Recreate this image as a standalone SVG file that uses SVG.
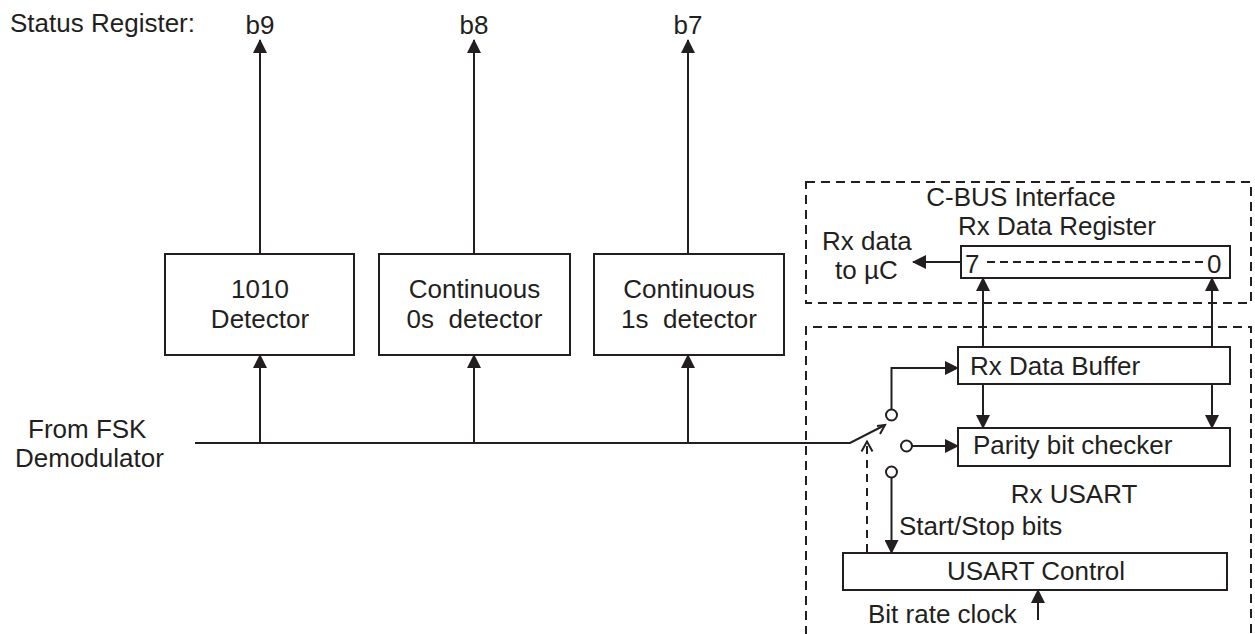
<svg xmlns="http://www.w3.org/2000/svg" width="1255" height="634" viewBox="0 0 1255 634">
<defs>
<style>
text{font-family:"Liberation Sans",Arial,sans-serif;font-size:26px;fill:#231f20}
.m{text-anchor:middle}
.box{fill:#fff;stroke:#231f20;stroke-width:2}
.ln{fill:none;stroke:#231f20;stroke-width:2}
.dash{fill:none;stroke:#231f20;stroke-width:2;stroke-dasharray:9 6}
.circ{fill:#fff;stroke:#231f20;stroke-width:2}
</style>
<marker id="ah" markerUnits="userSpaceOnUse" markerWidth="14" markerHeight="14" viewBox="0 0 14 14" refX="13" refY="7" orient="auto">
<path d="M0,0 L14,7 L0,14 Z" fill="#231f20"/>
</marker>
</defs>
<rect width="1255" height="634" fill="#fff"/>
<g id="labels">
<text x="10" y="32">Status Register:</text>
<text class="m" x="260" y="34">b9</text>
<text class="m" x="474" y="34">b8</text>
<text class="m" x="688" y="34">b7</text>
<text x="28" y="438">From FSK</text>
<text x="15" y="467">Demodulator</text>
<text x="822" y="250">Rx data</text>
<text x="835" y="279">to µC</text>
<text class="m" x="1021" y="206">C-BUS Interface</text>
<text x="958" y="235">Rx Data Register</text>
<text class="m" x="1074" y="503">Rx USART</text>
<text x="899" y="535">Start/Stop bits</text>
<text x="868" y="623">Bit rate clock</text>
</g>
<g id="cbus-interface">
<rect class="dash" x="806" y="182" width="445" height="121"/>
</g>
<g id="rx-usart">
<path class="dash" d="M806,650 V327 H1251 V650"/>
</g>
<g id="det1010">
<rect class="box" x="165" y="254" width="189" height="101"/>
<text class="m" x="260" y="298">1010</text>
<text class="m" x="260" y="328">Detector</text>
</g>
<g id="det0s">
<rect class="box" x="379" y="254" width="191" height="101"/>
<text class="m" x="474.5" y="298">Continuous</text>
<text class="m" x="474.5" y="328" xml:space="preserve">0s  detector</text>
</g>
<g id="det1s">
<rect class="box" x="594" y="254" width="190" height="101"/>
<text class="m" x="689" y="298">Continuous</text>
<text class="m" x="689" y="328" xml:space="preserve">1s  detector</text>
</g>
<g id="rx-data-register">
<rect class="box" x="961" y="246" width="269" height="32"/>
<text x="965" y="273">7</text>
<text x="1207" y="273">0</text>
<line class="dash" x1="987" y1="262" x2="1203" y2="262" style="stroke-dasharray:8 5"/>
</g>
<g id="rx-data-buffer">
<rect class="box" x="958" y="347" width="272" height="37"/>
<text x="970" y="375">Rx Data Buffer</text>
</g>
<g id="parity-checker">
<rect class="box" x="958" y="428" width="272" height="38"/>
<text x="973" y="454">Parity bit checker</text>
</g>
<g id="usart-control">
<rect class="box" x="843" y="553" width="384" height="37"/>
<text class="m" x="1036" y="580">USART Control</text>
</g>
<g id="switch">
<circle class="circ" cx="891.5" cy="415" r="5.5"/>
<circle class="circ" cx="906.5" cy="446" r="5.5"/>
<circle class="circ" cx="891.5" cy="472" r="5.5"/>
</g>
<g id="connectors">
<line class="ln" x1="260" y1="254" x2="260" y2="40" marker-end="url(#ah)"/>
<line class="ln" x1="474" y1="254" x2="474" y2="40" marker-end="url(#ah)"/>
<line class="ln" x1="688" y1="254" x2="688" y2="40" marker-end="url(#ah)"/>
<polyline class="ln" points="195,443 850,443 885,425"/>
<polyline class="ln" points="877,426 885,425 880,434"/>
<line class="ln" x1="260" y1="443" x2="260" y2="355" marker-end="url(#ah)"/>
<line class="ln" x1="474" y1="443" x2="474" y2="355" marker-end="url(#ah)"/>
<line class="ln" x1="688" y1="443" x2="688" y2="355" marker-end="url(#ah)"/>
<polyline class="ln" points="891.5,409.5 891.5,368 958,368" marker-end="url(#ah)"/>
<line class="ln" x1="912" y1="446" x2="958" y2="446" marker-end="url(#ah)"/>
<line class="ln" x1="891.5" y1="477.5" x2="891.5" y2="553" marker-end="url(#ah)"/>
<line class="dash" x1="867" y1="552" x2="867" y2="446" style="stroke-dasharray:8 6"/>
<polyline class="ln" points="861.5,451.5 867,441.5 872.5,451.5"/>
<line class="ln" x1="961" y1="262" x2="913" y2="262" marker-end="url(#ah)"/>
<line class="ln" x1="983" y1="347" x2="983" y2="278" marker-end="url(#ah)"/>
<line class="ln" x1="1212" y1="347" x2="1212" y2="278" marker-end="url(#ah)"/>
<line class="ln" x1="983" y1="384" x2="983" y2="428" marker-end="url(#ah)"/>
<line class="ln" x1="1212" y1="384" x2="1212" y2="428" marker-end="url(#ah)"/>
<line class="ln" x1="1038" y1="620" x2="1038" y2="590" marker-end="url(#ah)"/>
</g>
</svg>
